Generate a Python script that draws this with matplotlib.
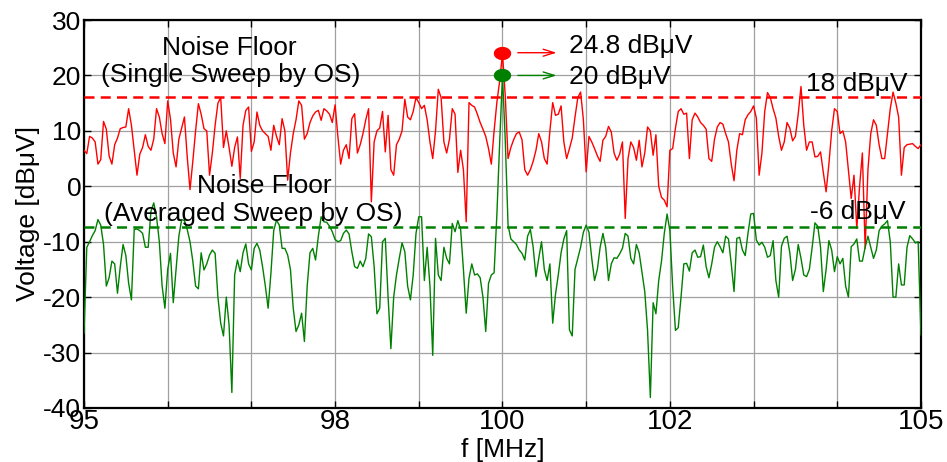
import numpy as np
import matplotlib
matplotlib.use('Agg')
import matplotlib.pyplot as plt
from matplotlib.path import Path

# ---- data (dBuV), uniformly spaced 95..105 MHz ----
red = [
    # 95.0 - 96.45
    6.5, 5.9, 9, 8.7, 8, 4, 4.8, 11.7, 10.3, 5.5, 4, 7.5, 8.7, 10.4, 10.6, 10.7, 14, 11, 6.5, 2,
    5.8, 7, 9.3, 7.2, 6.5, 8.5, 14, 12.5, 9.5, 7.7, 15.4, 12.1, 6, 3.5, 8.5, 10.5, 12.5, 5.3, -0.6, 4.5,
    10, 14.9, 13, 10.4,
    # 96.45 - 97.9
    10, 2, 6, 11, 15, 16, 7, 10, 7, 3.6, 7, 8.9, 1.4, 11, 13.7, 14.3, 6.3, 8, 13.4, 11,
    10, 9.5, 9, 6.5, 11, 9, 7.5, 12.2, 10, 1.1, 6, 9.5, 12, 15.4, 14.6, 8.5, 9.5, 11.5, 12.7, 13.4,
    13.7, 11.9, 14,
    # 97.9 - 99.3
    13.6, 13, 11.5, 14.7, 9, 4, 6.5, 7.5, 5, 12.2, 13.1, 6, 7.5, 9.5, 12, 14, -2.8, 8, 10, 10.5,
    13.5, 6.2, 12.8, 3, 2, 7.5, 8.5, 10, 15.7, 12.5, 12, 13.5, 16, 15.1, 14, 14.6, 12, 8, 5, 10,
    17.5, 16, 8,
    # 99.3 - 100.75
    6, 8.5, 14, 13, 2.5, 6.5, 3, -6.4, 15.1, 14.6, 14.3, 13, 11.5, 10.3, 9, 6.8, 4, 10, 15.2, 19,
    24, 16.3, 5, 7, 8.4, 9.5, 9.8, 8.4, 3, 2, 3, 4.5, 6.5, 9.5, 8, 5, 4, 10, 15.1, 12.8,
    13, 14.5, 8,
    # 100.75 - 102.2
    5, 6.8, 8.7, 12.5, 16, 17, 12, 2.6, 9, 8, 6.8, 5.5, 4.5, 8.3, 9, 10.8, 9.8, 6, 4.7, 5.8,
    8, -5.8, 5, 8, 7, 4.7, 8.3, 3.5, 6, 10.7, 10, 5.6, 9.3, 0, -2, -2.5, -3.7, 6.5, 6.8, 10.5,
    13.5, 14, 13,
    # 102.2 - 103.6
    13.2, 5, 12, 13.2, 12.5, 11.5, 11, 10.3, 5, 4.5, 8.5, 10.7, 11.5, 11.2, 9.5, 8, 4, 1, 6.5, 9.5,
    9.3, 12, 12.9, 13.5, 14.5, 12.3, 2, 6, 13.5, 16.9, 16, 14, 12.3, 9, 6.5, 8, 11.5, 10.5, 8.2, 9,
    13, 18, 11,
    # 103.6 - 105
    6.5, 8, 8, 5.3, 5.4, 6.2, 2.5, -1, 4, 10, 14, 13.5, 9.5, 10, 8, 3, -2.2, 2, -7.6, 0,
    6, -11.2, 3, 9.5, 12, 11, 7.5, 5, 5, 9.5, 14, 17, 15, 12.5, 2, 7, 7.5, 7.6, 7.7, 7.2,
    6.8, 7.5,
]

green = [
    -26.5, -11, -10, -8.9, -8, -6, -7, -10.5, -18, -16.5, -13.5, -14, -19.3, -14.5, -10.5, -12.5, -17.5, -20.5, -7.8, -7.7,
    -8, -8.5, -11, -11, -4.5, -3, -5.5, -10, -18, -22, -15, -12.1, -21, -15, -9, -6, -6.2, -7.8, -10, -13.5,
    -18, -18.5, -12, -15.1,
    -14, -12.4, -11.5, -12.1, -20, -24.7, -27, -20, -25, -37.2, -16, -13.3, -15.4, -12, -10.4, -14, -15.1, -11.2, -10.3, -11.5,
    -14.5, -18, -22, -15.7, -8, -6.1, -7, -11.2, -11.2, -12.4, -15, -22, -26.2, -25, -22.9, -28, -18, -12, -11.2, -13.3,
    -9, -5.5, -6.4,
    -6.5, -7.2, -8.2, -9.6, -10, -9.8, -8.5, -7.9, -8.6, -11.8, -14.5, -14.8, -13.5, -14.5, -13, -8.6, -9.1, -14.5, -23, -22,
    -10, -9.4, -20, -29.3, -20, -16, -13, -10.2, -11.8, -18, -20.5, -16, -8.5, -5.5, -5.5, -17, -11, -18, -30.5, -9.4,
    -16, -17, -11,
    -13, -14, -6.7, -8.2, -6.2, -7.8, -15, -22.9, -16.6, -14, -16, -15.8, -16.5, -20, -26.2, -17.5, -16, -15.6, -5, 8,
    20, 8.3, -7, -9.5, -10, -10.5, -11.5, -12.1, -13.3, -9, -7.8, -11, -16.3, -13, -10, -15, -17, -14, -24.7, -19.5,
    -16, -12, -9.5,
    -8, -25.9, -27, -15, -13, -11, -8.3, -7, -8.3, -13, -17, -15, -11, -8.5, -11, -17, -14, -12.9, -13, -12.2,
    -11.2, -8.5, -9, -13, -14, -10.5, -12, -15.5, -19, -26, -38.1, -21, -23, -17, -13.5, -8.5, -5, -8, -18.1, -26,
    -25.5, -20, -14,
    -13.9, -15.3, -12, -11.5, -12.8, -12.7, -10.6, -14.5, -16.5, -14, -11, -10, -10.9, -12, -9, -9.5, -14, -19, -9.4, -9.2,
    -11.5, -12.5, -8.5, -5, -4.9, -9.7, -10.6, -10.1, -11, -12.8, -12.5, -9.8, -17, -20, -10.8, -9.4, -9, -12, -17, -15,
    -10.5, -13, -16,
    -16.3, -15, -11, -6.6, -7.2, -11, -19, -15, -9.8, -11.5, -15.4, -12.7, -14, -13, -18, -20, -10.9, -10.4, -9.5, -13.5,
    -13.5, -11, -9, -11, -13, -11.5, -8, -7.2, -6.8, -6.2, -10, -20, -20, -14, -17.8, -17.8, -11, -8.9, -9.5, -10.2,
    -10, -26.8,
]

floor_single = 16.1      # drawn level of red dashed line
floor_avg = -7.4         # drawn level of green dashed line
peak_freq = 100.0
peak_single = 24.1
peak_avg = 20.0

xtick_vals = [95, 96, 97, 98, 99, 100, 101, 102, 103, 104, 105]
xtick_labels = ['95', '', '', '98', '', '100', '', '102', '', '', '105']
ytick_vals = [-40, -30, -20, -10, 0, 10, 20, 30]

plt.rcParams['font.family'] = ['Liberation Sans', 'DejaVu Sans']

fig = plt.figure(figsize=(9.47, 4.62), dpi=100)
ax = fig.add_axes([0.0887, 0.1169, 0.8838, 0.8398])

f_red = np.linspace(95, 105, len(red))
f_green = np.linspace(95, 105, len(green))

ax.plot(f_red, red, color='#ff0000', lw=1.0, zorder=3)
ax.plot(f_green, green, color='#008000', lw=1.0, zorder=3)
ax.axhline(floor_single, color='#ff0000', lw=1.8, ls=(0, (4, 2.5)), zorder=4)
ax.axhline(floor_avg, color='#008000', lw=1.8, ls=(0, (4, 2.5)), zorder=4)

t = np.linspace(0, 2 * np.pi, 60)
ell = Path(np.c_[1.35 * np.cos(t), np.sin(t)], closed=True)
ax.plot([peak_freq], [peak_single], marker=ell, ms=11.5, color='#ff0000', ls='none', zorder=6)
ax.plot([peak_freq], [peak_avg], marker=ell, ms=11.5, color='#008000', ls='none', zorder=6)

ax.annotate('', xy=(100.68, peak_single), xytext=(100.15, peak_single),
            arrowprops=dict(arrowstyle='->,head_length=0.8,head_width=0.25', color='#ff0000', lw=1.0))
ax.annotate('', xy=(100.68, peak_avg), xytext=(100.15, peak_avg),
            arrowprops=dict(arrowstyle='->,head_length=0.8,head_width=0.25', color='#008000', lw=1.0))

fs = 19
ax.text(100.8, 25.4, '24.8 dBμV', fontsize=fs, va='center', ha='left', zorder=7)
ax.text(100.8, 19.8, '20 dBμV', fontsize=fs, va='center', ha='left', zorder=7)
ax.text(103.63, 18.4, '18 dBμV', fontsize=fs, va='center', ha='left', zorder=7)
ax.text(103.67, -4.7, '-6 dBμV', fontsize=fs, va='center', ha='left', zorder=7)
ax.text(96.74, 25.0, 'Noise Floor', fontsize=fs, va='center', ha='center', zorder=7)
ax.text(96.75, 20.0, '(Single Sweep by OS)', fontsize=fs, va='center', ha='center', zorder=7)
ax.text(97.16, 0.0, 'Noise Floor', fontsize=fs, va='center', ha='center', zorder=7)
ax.text(97.02, -5.0, '(Averaged Sweep by OS)', fontsize=fs, va='center', ha='center', zorder=7)

ax.set_xlim(95, 105)
ax.set_ylim(-40, 30)
ax.set_xticks(xtick_vals)
ax.set_xticklabels(xtick_labels, fontsize=20, family=['Liberation Sans Narrow', 'Liberation Sans'])
ax.set_yticks(ytick_vals)
ax.set_yticklabels([str(v) for v in ytick_vals], fontsize=19)
ax.tick_params(axis='y', direction='in', length=5, width=1, right=True, pad=2)
ax.tick_params(axis='x', direction='in', length=5, width=1, top=True, pad=1)
ax.grid(True, color='#a0a0a0', lw=0.9, zorder=1)
ax.set_axisbelow(True)
for s in ax.spines.values():
    s.set_linewidth(1.6)

ax.set_xlabel('f [MHz]', fontsize=19, family=['Liberation Sans Narrow', 'Liberation Sans'])
ax.xaxis.set_label_coords(0.5, -0.077)
ax.set_ylabel('Voltage [dBμV]', fontsize=19, labelpad=2)

fig.savefig('out.png', dpi=100)
